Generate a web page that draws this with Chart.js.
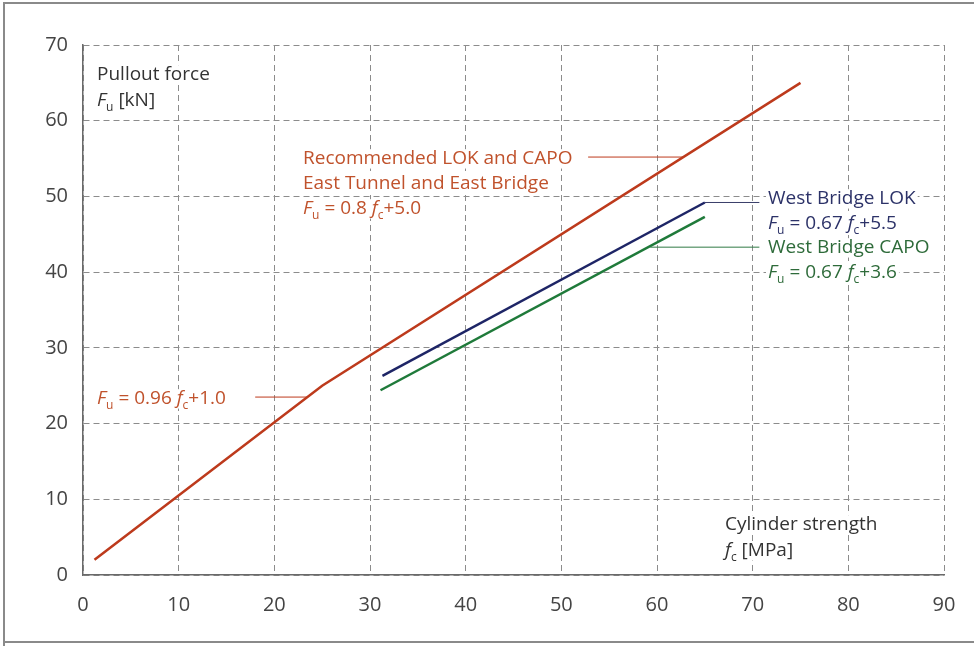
<!DOCTYPE html>
<html>
<head>
<meta charset="utf-8">
<script src="https://cdn.jsdelivr.net/npm/chart.js@4.4.1/dist/chart.umd.min.js"></script>
<style>
  html, body { margin: 0; padding: 0; background: #fff; }
  #wrap { width: 974px; height: 646px; position: relative; }
</style>
</head>
<body>
<div id="wrap"><canvas id="c" width="974" height="646"></canvas></div>
<script>
// ---- data ----
const xTicks = [0, 10, 20, 30, 40, 50, 60, 70, 80, 90];
const yTicks = [0, 10, 20, 30, 40, 50, 60, 70];

const recommendedX = [1.2, 25, 75];
const recommendedY = [2.0, 25, 65];

const westLokX = [31.3, 65];
const westLokY = [26.3, 49.2];

const westCapoX = [31.1, 65];
const westCapoY = [24.4, 47.3];

// leader lines (from label to curve)
const leaderRecX = [52.8, 62.8];
const leaderRecY = [55.2, 55.2];
const leaderLowX = [18.0, 23.4];
const leaderLowY = [23.5, 23.5];
const leaderLokX = [65, 70.7];
const leaderLokY = [49.2, 49.2];
const leaderCapoX = [59.3, 70.7];
const leaderCapoY = [43.3, 43.3];

const RED = '#bd3a1c';
const RED_TXT = '#c0522c';
const BLUE = '#1e2566';
const BLUE_TXT = '#2c3268';
const GREEN = '#1f7a3a';
const GREEN_TXT = '#2e6b3a';
const INK = '#333333';

function pts(xs, ys) { return xs.map((x, i) => ({x: x, y: ys[i]})); }

const FONT = '"Open Sans", "Noto Sans", sans-serif';
const FS = 19;

function segFont(s) {
  if (s === 'i') return 'italic ' + FS + 'px ' + FONT;
  if (s === 'sub') return Math.round(FS * 0.65) + 'px ' + FONT;
  return FS + 'px ' + FONT;
}

function drawRich(ctx, x, y, segs, color) {
  ctx.save();
  ctx.textBaseline = 'alphabetic';
  ctx.textAlign = 'left';
  let w = 0;
  for (const [t, s] of segs) { ctx.font = segFont(s); w += ctx.measureText(t).width; }
  ctx.fillStyle = '#fff';
  ctx.fillRect(x - 2, y - FS * 0.78, w + 4, FS * 1.02);
  ctx.fillStyle = color;
  let cx = x;
  for (const [t, s] of segs) {
    ctx.font = segFont(s);
    ctx.fillText(t, cx, y + (s === 'sub' ? 5 : 0));
    cx += ctx.measureText(t).width;
  }
  ctx.restore();
}

const annot = {
  id: 'annot',
  beforeDraw(chart) {
    const ctx = chart.ctx;
    ctx.save();
    ctx.fillStyle = '#fff';
    ctx.fillRect(0, 0, chart.width, chart.height);
    ctx.strokeStyle = '#8a8a8a';
    ctx.lineWidth = 2;
    ctx.beginPath();
    ctx.moveTo(4, 646); ctx.lineTo(4, 3); ctx.lineTo(974, 3);
    ctx.stroke();
    ctx.beginPath();
    ctx.moveTo(4, 642); ctx.lineTo(974, 642);
    ctx.stroke();
    ctx.restore();
  },
  afterDatasetsDraw(chart) {
    const ctx = chart.ctx;
    drawRich(ctx, 97, 80, [['Pullout force', 'n']], INK);
    drawRich(ctx, 97, 106, [['F', 'i'], ['u', 'sub'], [' [kN]', 'n']], INK);
    drawRich(ctx, 725, 530, [['Cylinder strength', 'n']], INK);
    drawRich(ctx, 725, 556, [['f', 'i'], ['c', 'sub'], [' [MPa]', 'n']], INK);
    drawRich(ctx, 303, 164, [['Recommended LOK and CAPO', 'n']], RED_TXT);
    drawRich(ctx, 303, 189, [['East Tunnel and East Bridge', 'n']], RED_TXT);
    drawRich(ctx, 303, 214, [['F', 'i'], ['u', 'sub'], [' = 0.8 ', 'n'], ['f', 'i'], ['c', 'sub'], ['+5.0', 'n']], RED_TXT);
    drawRich(ctx, 97, 404, [['F', 'i'], ['u', 'sub'], [' = 0.96 ', 'n'], ['f', 'i'], ['c', 'sub'], ['+1.0', 'n']], RED_TXT);
    drawRich(ctx, 768, 204, [['West Bridge LOK', 'n']], BLUE_TXT);
    drawRich(ctx, 768, 229, [['F', 'i'], ['u', 'sub'], [' = 0.67 ', 'n'], ['f', 'i'], ['c', 'sub'], ['+5.5', 'n']], BLUE_TXT);
    drawRich(ctx, 768, 253, [['West Bridge CAPO', 'n']], GREEN_TXT);
    drawRich(ctx, 768, 278, [['F', 'i'], ['u', 'sub'], [' = 0.67 ', 'n'], ['f', 'i'], ['c', 'sub'], ['+3.6', 'n']], GREEN_TXT);
  }
};

function lineDs(data, color, width) {
  return {
    data: data, borderColor: color, borderWidth: width, pointRadius: 0,
    showLine: true, fill: false, tension: 0
  };
}

new Chart(document.getElementById('c'), {
  type: 'scatter',
  data: {
    datasets: [
      lineDs(pts(recommendedX, recommendedY), RED, 2.5),
      lineDs(pts(westLokX, westLokY), BLUE, 2.5),
      lineDs(pts(westCapoX, westCapoY), GREEN, 2.5),
      lineDs(pts(leaderRecX, leaderRecY), RED, 1),
      lineDs(pts(leaderLowX, leaderLowY), RED, 1),
      lineDs(pts(leaderLokX, leaderLokY), '#3a3f6a', 1),
      lineDs(pts(leaderCapoX, leaderCapoY), '#2f7a45', 1)
    ]
  },
  options: {
    responsive: false,
    animation: false,
    devicePixelRatio: 1,
    layout: { padding: { left: 0, top: 45, right: 30, bottom: 0 } },
    plugins: { legend: { display: false }, tooltip: { enabled: false } },
    scales: {
      x: {
        type: 'linear', min: 0, max: 90,
        afterBuildTicks: s => { s.ticks = xTicks.map(v => ({value: v})); },
        afterFit: s => { s.height = 71; },
        grid: { color: '#8c8c8c', lineWidth: 1, drawTicks: false },
        border: { display: true, color: '#6a6a6a', width: 1.5, dash: [6, 4] },
        ticks: { color: '#444', padding: 18, font: { family: FONT, size: 20 } }
      },
      y: {
        type: 'linear', min: 0, max: 70,
        afterBuildTicks: s => { s.ticks = yTicks.map(v => ({value: v})); },
        afterFit: s => { s.width = 83; },
        grid: { color: '#8c8c8c', lineWidth: 1, drawTicks: false },
        border: { display: true, color: '#6a6a6a', width: 1.5, dash: [6, 4] },
        ticks: { color: '#444', padding: 15, font: { family: FONT, size: 20 } }
      }
    }
  },
  plugins: [annot]
});
</script>
</body>
</html>
